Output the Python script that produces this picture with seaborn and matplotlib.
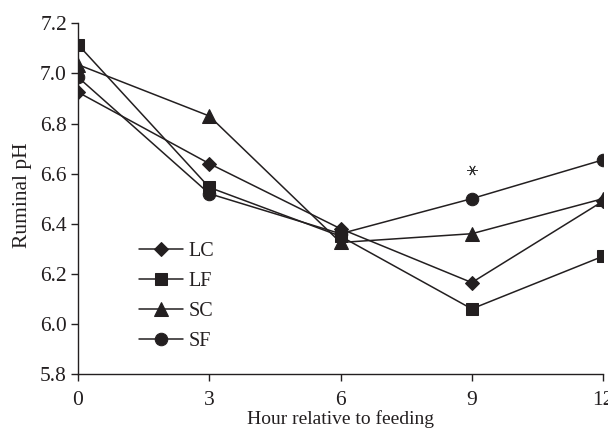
import numpy as np
import pandas as pd
import matplotlib
matplotlib.use('Agg')
import matplotlib.pyplot as plt
import seaborn as sns

hours = [0, 3, 6, 9, 12]
lc = [6.925, 6.64, 6.38, 6.165, 6.49]
lf = [7.115, 6.545, 6.35, 6.06, 6.27]
sc = [7.035, 6.83, 6.325, 6.36, 6.50]
sf = [6.985, 6.52, 6.36, 6.50, 6.655]
groups = ['LC', 'LF', 'SC', 'SF']
markers = {'LC': 'D', 'LF': 's', 'SC': '^', 'SF': 'o'}

# significance mark at 9 h
star_hour = 9
star_ph = 6.615

df = pd.DataFrame({
    'hour': hours * 4,
    'ph': lc + lf + sc + sf,
    'group': np.repeat(groups, len(hours)),
})

sns.set_style('ticks')
plt.rcParams['font.family'] = ['Liberation Serif', 'DejaVu Serif']
ink = '#231f20'

fig = plt.figure(figsize=(6.08, 4.28), dpi=100)
ax = fig.add_axes([0.1283, 0.1262, 0.8635, 0.8193])

sns.lineplot(
    data=df, x='hour', y='ph', hue='group', style='group',
    palette=[ink] * 4, markers=markers, dashes=False,
    linewidth=1.1, markersize=9, markeredgecolor=ink, ax=ax
)
# diamonds a bit smaller, triangles a bit larger, like the reference
for line in ax.lines:
    if line.get_marker() == 'D':
        line.set_markersize(7.5)
    elif line.get_marker() == '^':
        line.set_markersize(9.5)

ax.scatter([star_hour], [star_ph], marker=(6, 2, 90), s=50,
           color='#333333', linewidths=0.7)

ax.set_xlim(0, 12)
ax.set_ylim(5.8, 7.2)
ax.set_xticks([0, 3, 6, 9, 12])
ax.set_yticks(np.arange(5.8, 7.21, 0.2))
ax.set_yticklabels([f'{v:.1f}' for v in np.arange(5.8, 7.21, 0.2)])
ax.tick_params(axis='both', direction='out', length=5, width=1,
               labelsize=15.5, colors=ink)
ax.tick_params(axis='x', pad=7)
ax.tick_params(axis='y', pad=3)
ax.set_xlabel('Hour relative to feeding', fontsize=14, labelpad=0,
              color=ink)
ax.set_ylabel('Ruminal pH', fontsize=15.5, color=ink)
ax.yaxis.set_label_coords(-0.087, 0.51)
sns.despine(ax=ax)
for sp in ['left', 'bottom']:
    ax.spines[sp].set_linewidth(1)
    ax.spines[sp].set_color(ink)
    ax.spines[sp].set_clip_on(False)

leg = ax.legend(loc='upper left', bbox_to_anchor=(0.1, 0.40), frameon=False,
                fontsize=14.5, handlelength=2.2, handletextpad=0.3,
                labelspacing=0.55, borderaxespad=0)
for t in leg.get_texts():
    t.set_color(ink)

fig.savefig('out.png', dpi=100)
